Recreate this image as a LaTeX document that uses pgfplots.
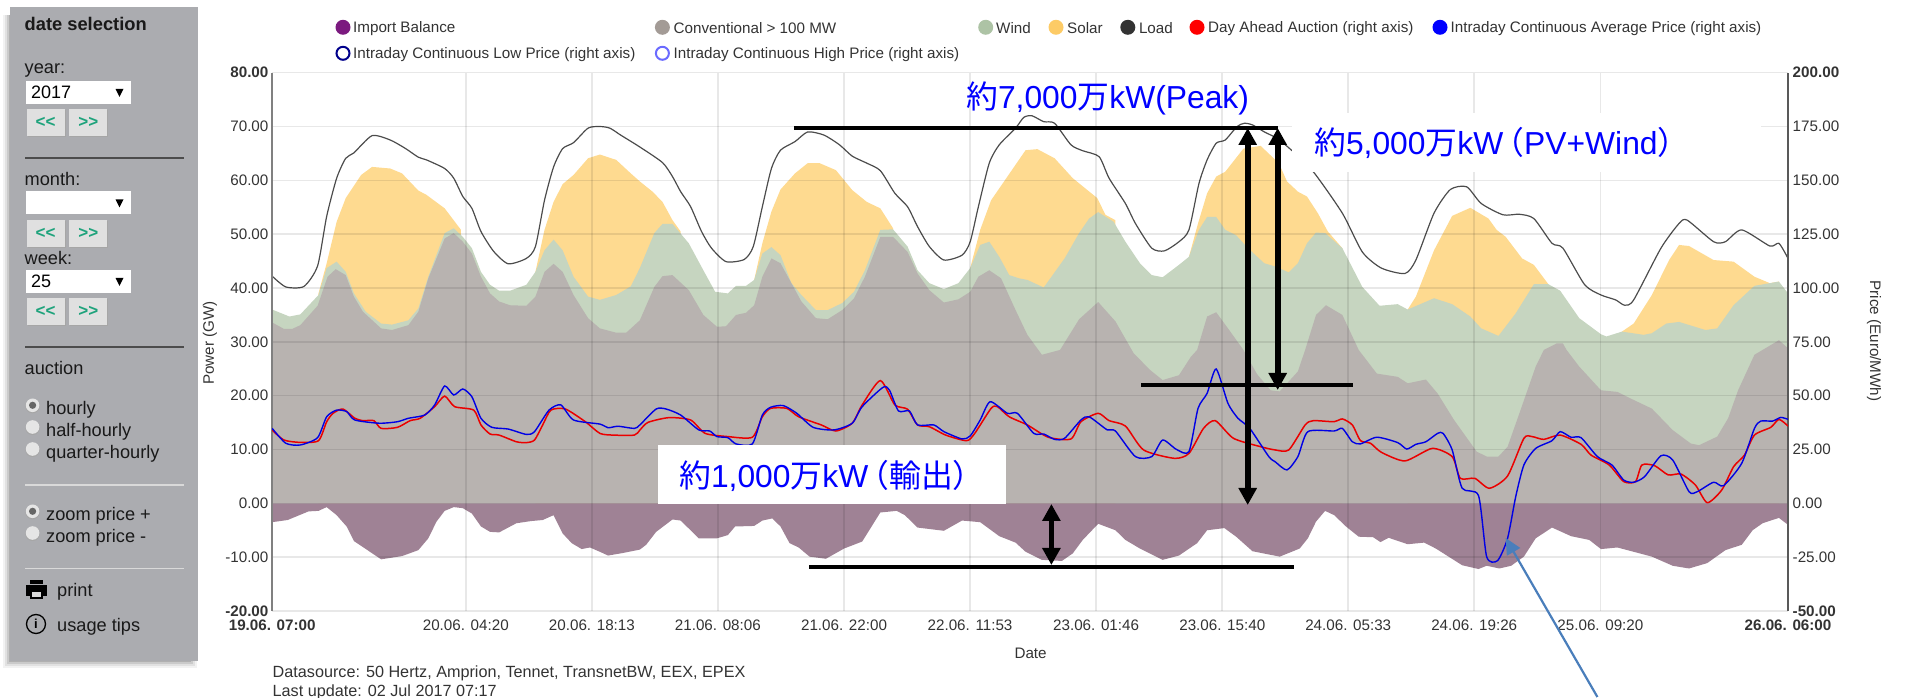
\documentclass[border=0pt]{standalone}
\usepackage{fontspec}
\setmainfont{Liberation Sans}
\newfontfamily\cjk{Noto Sans CJK JP}
\newfontfamily\cjkp[RawFeature=+palt]{Noto Sans CJK JP}
\usepackage{pgfplots}
\pgfplotsset{compat=1.18}
\usetikzlibrary{arrows.meta}
\definecolor{panel}{HTML}{ABACB0}
\definecolor{conv}{HTML}{B8B3B0}
\definecolor{windc}{HTML}{C6D5C0}
\definecolor{solarc}{HTML}{FEDA90}
\definecolor{importc}{HTML}{9F8295}
\definecolor{txt}{HTML}{333333}
\definecolor{grn}{HTML}{1FA37C}
\definecolor{annot}{HTML}{4A7EBB}
\definecolor{lgimp}{HTML}{7B1A7F}
\definecolor{lgconv}{HTML}{A39B96}
\definecolor{lgwind}{HTML}{ADC3A5}
\definecolor{lgsolar}{HTML}{FDCB66}
\definecolor{lgload}{HTML}{333333}
\definecolor{lglow}{HTML}{00008B}
\definecolor{lghigh}{HTML}{6A6AFF}
\newcommand{\fs}[1]{\fontsize{#1}{#1}\selectfont}
\tikzset{
 lg/.style={anchor=west,inner sep=0pt,text=txt,font=\fs{15.2}},
 pn/.style={anchor=west,inner sep=0pt,text=black!90,font=\fs{18.2}},
 ah/.style={{Triangle[length=17pt,width=17.5pt]}-{Triangle[length=17pt,width=17.5pt]}},
}
\newcommand{\btns}[1]{%
 \fill[black!35] (27.5,#1+1) rectangle (65.5,#1+28);
 \fill[black!35] (70.4,#1+1) rectangle (108.3,#1+28);
 \fill[black!12] (26.5,#1) rectangle (64.5,#1+27);
 \fill[black!12] (69.4,#1) rectangle (107.3,#1+27);
 \node[font=\fs{17}\bfseries,text=grn] at (45.5,#1+13) {<{}<};
 \node[font=\fs{17}\bfseries,text=grn] at (88.3,#1+13) {>{}>};
}
\newcommand{\selbox}[2]{%
 \fill[white] (25.7,#1) rectangle (131.4,#1+23);
 \fill[black] (115.5,#1+8) -- (123.5,#1+8) -- (119.5,#1+16) -- cycle;
 \node[anchor=west,inner sep=0pt,font=\fs{18}] at (31,#1+11.5) {#2};
}
\newcommand{\radio}[2]{%
 \fill[black!35] (32.6,#1+0.8) circle (7.2);
 \fill[black!10] (32.6,#1) circle (6.8);
 \ifnum#2=1 \fill[black!60] (32.6,#1) circle (3.6);\fi
}
\begin{document}
\begin{tikzpicture}
\path[use as bounding box] (0,0) rectangle (1915pt,698pt);
\begin{scope}[x=1pt,y=-1pt,shift={(0pt,698pt)}]
 % panel with shadow
 \foreach \d/\o in {7/0.05,5/0.07,3/0.1,1/0.13}{
  \fill[black,opacity=\o] (10-\d,15) rectangle (190+\d,661+\d);
 }
 \fill[panel] (10,7) rectangle (198,661);
 \node[pn,font=\fs{18.3}\bfseries] at (24.5,24) {date selection};
 \node[pn] at (24.5,71) {year:};
 \selbox{81}{2017}
 \btns{109}
 \draw[black!70,line width=1.5pt] (25.3,158) -- (183.7,158);
 \node[pn] at (24.5,179) {month:};
 \selbox{191.5}{}
 \btns{220}
 \node[pn] at (24.5,258.5) {week:};
 \selbox{270}{25}
 \btns{298}
 \draw[black!70,line width=1.5pt] (25.3,347) -- (183.7,347);
 \node[pn] at (24.5,367.7) {auction};
 \radio{405.3}{1}\radio{427}{0}\radio{449}{0}
 \node[pn] at (46,410) {hourly};
 \node[pn] at (46,432) {half-hourly};
 \node[pn] at (46,454) {quarter-hourly};
 \draw[black!15,line width=1.5pt] (25.3,485) -- (184,485);
 \radio{511.3}{1}\radio{533}{0}
 \node[pn] at (46,516) {zoom price +};
 \node[pn] at (46,538) {zoom price -};
 \draw[black!15,line width=1.5pt] (25.3,568.7) -- (184,568.7);
 % print icon
 \fill[black] (26,585) rectangle (47,596);
 \fill[black] (30,580) rectangle (43,584);
 \fill[black!15] (31,591) rectangle (42,598);
 \draw[black,line width=1.2pt] (31,591) rectangle (42,598);
 \node[pn] at (57,592) {print};
 % info icon
 \draw[black,line width=1.3pt] (36,624) circle (9.5);
 \node[inner sep=0pt,font=\fs{13}\bfseries] at (36,624) {i};
 \node[pn] at (57,626.5) {usage tips};
\end{scope}

\begin{axis}[
 at={(272.2pt,87pt)},anchor=south west,scale only axis,
 width=1515.8pt,height=538.3pt,
 xmin=0,xmax=167,ymin=-20,ymax=80,
 axis on top,
 axis y line*=left,axis x line*=bottom,
 y axis line style={-,draw=black!50,line width=1.5pt},
 x axis line style={-,draw=none},
 major tick length=0pt,
 xmajorgrids,ymajorgrids,
 grid style={draw=black,opacity=0.09,line width=1.6pt},
 xtick={0,21.33,35.22,49.1,63,76.88,90.77,104.67,118.55,132.43,146.33,167},
 xticklabels={\textbf{19.06. 07:00},20.06. 04:20,20.06. 18:13,21.06. 08:06,21.06. 22:00,22.06. 11:53,23.06. 01:46,23.06. 15:40,24.06. 05:33,24.06. 19:26,25.06. 09:20,\textbf{26.06. 06:00}},
 ytick={-20,-10,0,10,20,30,40,50,60,70,80},
 yticklabels={\textbf{-20.00},-10.00,0.00,10.00,20.00,30.00,40.00,50.00,60.00,70.00,\textbf{80.00}},
 xticklabel style={font=\fs{15.2},text=txt,anchor=north,inner sep=0pt,yshift=-8.5pt},
 yticklabel style={font=\fs{15.2},text=txt,anchor=east,inner sep=0pt,xshift=-3.6pt},
]
% solar arcs
\addplot[fill=solarc,draw=none] coordinates {(5.1,39)(6,44.6)(7.1,52.3)(8.1,56.7)(9.8,61)(11,62.5)(13,62.2)(14.3,61.3)(16.1,58.1)(17,57.3)(19,54.8)(20.8,50.8)} \closedcycle;
\addplot[fill=solarc,draw=none] coordinates {(29,43)(30,50.8)(31,56)(32,59.3)(33.2,61)(34.8,64.1)(36.1,64.8)(37.9,63.8)(39.5,61.3)(40.5,59.8)(41.9,57.9)(43,56)(44.1,52.6)(45,50.5)} \closedcycle;
\addplot[fill=solarc,draw=none] coordinates {(53.1,41.5)(54,48.3)(55,54.2)(56,58.3)(57.6,61.3)(59,63.2)(60.3,63.2)(62.1,61.9)(63.9,58.2)(65.5,56)(67,54.8)(68.4,51.1)} \closedcycle;
\addplot[fill=solarc,draw=none] coordinates {(76.9,43.7)(78,50.8)(79.2,56.3)(80.1,58.5)(83,65.6)(84.3,65.8)(86.2,64.1)(88.2,60.4)(90.9,56.7)(91.8,53.6)(92.9,52.6)} \closedcycle;
\addplot[fill=solarc,draw=none] coordinates {(101,45.8)(102,52)(103,57.6)(104,60.7)(105,61.6)(107,65.9)(108.9,66.4)(110.9,63.2)(111.8,59.8)(113,57.9)(114,57)(115.2,53.9)(116.3,50.5)(117.9,47.4)} \closedcycle;
\addplot[fill=solarc,draw=none] coordinates {(125.1,36)(126,38.4)(128,47)(130,53.4)(132,54.9)(134,52.9)(134.9,50.8)(135.9,49.5)(137.7,45.5)(139,44.3)(140.6,40.7)} \closedcycle;
\addplot[fill=solarc,draw=none] coordinates {(148.7,31.9)(150,33.4)(152,38.7)(153.9,45.2)(155,48)(156.1,47.8)(158.8,45.2)(161,44.9)(163.3,42.1)(165,40.9)(166,41.2)} \closedcycle;
% wind top
\addplot[fill=windc,draw=none] coordinates {(0,36)(1.9,34.7)(3.1,35.1)(5.1,38.7)(6,43.7)(7.1,44.9)(8.1,43)(9,39)(10.3,35.6)(12,33.4)(13.2,33.2)(15,34)(16.1,36.2)(17.2,42.1)(19,50.2)(20,51.1)(21,49.5)(22,47.4)(23,43)(24,40.6)(25,39.5)(26.2,39.5)(28,40.6)(29,43)(30,47)(31,49)(32,47)(33.2,42.1)(34.8,38.4)(36.1,37.8)(37.9,38.7)(39.5,40.3)(40.5,43.7)(42.1,50.2)(43,51.9)(44.1,51.9)(45.9,48.3)(47.5,43.3)(48.8,39.3)(50.2,39)(51.1,40.4)(52.2,40.4)(53.1,41.5)(54,46.4)(55,47.6)(56,46.1)(57.2,40.9)(58.3,38.7)(59.9,35.9)(61.2,35.9)(62.8,37.2)(64.1,39.3)(65.3,43.3)(67,50.8)(68.4,50.9)(70,47.7)(71.1,43.3)(72.4,40.9)(74,39.8)(75.6,40.9)(76.9,43.7)(78,48)(79,48.6)(80.1,45.8)(81.2,42.4)(82.3,41.8)(83.2,41.5)(85,40.1)(87.3,45.5)(88.9,50.2)(90,52.9)(91,54.1)(92.7,52.3)(94,48.6)(95.6,44.6)(96.9,42.4)(98.1,42)(99.9,44.3)(101,45.8)(102.1,50.8)(103,53.2)(104,53.2)(105,50.8)(106.2,49.8)(107.5,47.4)(109.3,44.6)(110.5,44)(112,42.9)(113,44.6)(114,48.3)(115,50.3)(116,50.2)(117.9,47.4)(120.1,40.2)(122,36.7)(124,37)(125.1,36)(128,38.1)(130,37)(132,34.7)(133.2,32.5)(135.1,31.1)(137,35.3)(139,40.7)(140.6,40.7)(141.9,39.5)(144,34.4)(146.4,31.4)(147,31)(148.7,31.9)(151.1,31.3)(152,31.6)(153.6,33.4)(155,33.7)(157.9,32.2)(159.2,32.5)(161,36.8)(163.3,40.4)(166,41.2)(167,39)} \closedcycle;
% conventional
\addplot[fill=conv,draw=none] coordinates {(0,33.6)(1.3,32.4)(2.2,32.4)(3.1,33.1)(5,36.7)(6.1,42.1)(7,43.5)(8.1,42.4)(9,38.4)(10,35.6)(12,32.5)(13.2,32.2)(15,33.1)(16.1,35.6)(17.2,41.8)(19,49.2)(20,50.2)(21,48.6)(22,46.4)(23,42.1)(24,39)(25,37.5)(26.2,36.8)(28,36.7)(29,38.4)(30,43)(31,44.5)(32,43)(33.2,38.7)(34.8,34.4)(36.1,32.5)(37.9,31.7)(39,31.7)(40.5,34)(42.1,40.2)(43,42.2)(44.1,42.4)(45.9,39.6)(47.5,35)(49,32.8)(50,32.9)(51.1,35)(52.2,35.4)(53.1,36.8)(54,42.1)(55,45.5)(56,44.6)(57.2,40.9)(58.3,37.5)(59.9,34.4)(61.2,34.2)(62.8,35.9)(64.1,38.1)(65.3,42.1)(67,49.5)(68.4,49.5)(70,46.7)(71.1,42.7)(72.4,39.6)(74,37.3)(75.6,37.9)(76.9,39.3)(77.8,42.1)(79,43.3)(80.3,41.8)(81.9,35.9)(83.2,31.3)(84.8,27.6)(86.8,28.5)(88.9,34.2)(91,37.4)(92.9,33.8)(94.9,27.9)(96.7,24.8)(98.1,22.9)(99.9,23.8)(101.2,27.2)(101.9,28.5)(103,34.7)(104,35.5)(105.3,32.5)(107,28.5)(108.5,24)(110,21)(111,20.8)(113,24.5)(113.8,28.5)(115,35)(116.1,36.8)(117.9,35)(119.7,28.5)(121.7,24.1)(124,23.5)(125.1,22.3)(127.1,23)(128.4,20.4)(130.2,15.5)(132.7,9.6)(133.8,8.7)(135.1,8.7)(136.1,10.5)(137.4,16.7)(139.2,25.4)(140.1,28.5)(141.5,29.7)(142.2,29.7)(142.6,28.5)(144,25.4)(146.4,21)(148.2,20.7)(150,19.2)(152,17.6)(154.3,13.6)(156.3,11.1)(157.2,10.8)(159.2,12.4)(160.4,15.8)(161.5,21)(163.3,27.6)(164.2,28.5)(166,30.3)(167,28.8)} \closedcycle;
% import balance
\addplot[fill=importc,draw=none] coordinates {(0,-3.5)(1.7,-3.1)(4,-1.5)(5.1,-1.4)(6,-0.7)(7.1,-2.2)(8.2,-4.3)(9,-7)(10.5,-8.7)(12,-10.4)(14.3,-9.8)(16.1,-8.7)(17.2,-6.5)(18.1,-3.4)(19,-1.4)(20,-0.7)(21,-0.9)(22,-1.9)(23,-4.3)(24,-5.3)(25,-5.4)(26.9,-3.7)(28.5,-3.3)(29.8,-3.1)(31,-2.2)(32,-5.6)(33,-7.4)(34.1,-8.5)(35,-8.2)(36.1,-9)(37,-9.7)(38.4,-9.3)(40.5,-8.6)(41.2,-7.7)(42.3,-5.3)(44.1,-3)(45,-3.2)(47,-6.5)(49,-6.5)(50.2,-5.9)(51,-4.3)(53.1,-4.2)(54,-3.2)(55.1,-2.8)(56,-4.3)(57,-7.4)(58,-8.2)(59.2,-9.9)(61,-10.3)(63,-8.4)(65,-7.1)(67,-1.7)(68.8,-1.4)(69.7,-2.2)(71.1,-4.5)(74,-5.1)(76,-3.2)(78,-3.5)(80.1,-6.1)(81.9,-7.3)(83,-9)(84.8,-10.5)(87,-10.7)(88.2,-9.3)(89.3,-6.8)(91,-3.8)(92.9,-5)(94,-6.8)(95.6,-8.4)(98.1,-10.5)(99.9,-9.7)(101.9,-7.4)(103,-5)(104.9,-4.6)(106.2,-6.2)(108,-8.9)(111,-9.9)(113.2,-8.4)(114.1,-6.5)(115,-3.4)(116,-1.4)(117,-2.2)(118.3,-4.3)(119.7,-6.2)(121.3,-6.3)(122.1,-7.2)(123,-6.4)(125.1,-7.6)(126.9,-7.3)(128.2,-8.4)(131.1,-11.5)(132.9,-12.2)(133.8,-11.6)(135.2,-12.1)(136.5,-11.6)(137.9,-9.9)(139.2,-6.5)(141,-4.5)(143.1,-6.1)(145.1,-6.8)(146.4,-8.5)(148.2,-8.2)(152,-9.9)(154.3,-11.6)(156.1,-12.1)(158.1,-11.1)(160.1,-8.7)(161.9,-7.7)(163.1,-5)(164.2,-3.7)(166,-2.7)(167,-4)} \closedcycle;
% load
\addplot[draw=black!70,line width=1.2pt,smooth,tension=0.4] coordinates {(0,42.2)(1.5,40.2)(3.5,40.3)(5,44.1)(6,53.3)(7.1,60.4)(8.1,64.1)(9,65.1)(11,68.3)(13,67.5)(14.7,65.9)(16.1,64.3)(17,63.8)(19,62.2)(20,60.4)(21,57)(22,54.8)(23,50.5)(24.4,46.8)(26,44.5)(28,45.5)(29,47.7)(30,56.3)(31,62.5)(32,65.9)(33.2,67)(34.8,69.7)(36.1,70)(37.2,69.7)(38.4,68.4)(40.5,66.2)(43,63.3)(44.1,60.7)(45,57.9)(46.1,55.1)(47.3,50.5)(48.4,47.4)(50,44.9)(52,45.3)(53,47.7)(54,55.1)(55,62.2)(56,65.6)(57.6,67.2)(59,69)(60.8,68.4)(62.5,66.6)(63.9,64.5)(65.5,63.2)(67,61.8)(68.6,57.6)(70,55.1)(71.1,51.4)(72.4,47.7)(74,45.2)(76,46.1)(76.9,48.6)(77.8,55.1)(79,63.2)(80.1,66.6)(81.9,69.7)(82.8,71.7)(83.7,72)(85,70.9)(86.2,70.6)(88,66.6)(89.3,65.5)(91.1,64.4)(92.2,60.4)(94,55.7)(95.1,52)(96.9,47.4)(98.3,46.9)(99.9,48.6)(101,50.8)(102.1,59.4)(103,63.8)(104,66.9)(105,67.5)(106.3,70)(107.1,70.6)(108,70.3)(109.3,69)(110.7,67.8)(112.3,65.6)(114.7,61.6)(117.9,53.9)(120.1,46.7)(122.2,43.7)(124.8,42.7)(126,45.2)(128,53.9)(129.8,58.3)(131.6,58.8)(133.2,55.7)(135.6,53.6)(137.4,53.7)(139,52.9)(141,48.3)(142.2,47.4)(144.6,40.6)(146.4,38.7)(148,37.8)(149,36.8)(150,37.8)(153,47.4)(155,52)(155.9,52.6)(158.8,48.6)(160.1,48.6)(161.9,50.8)(165,47.8)(166,48.3)(167,45.5)};
\end{axis}

\begin{axis}[
 at={(272.2pt,87pt)},anchor=south west,scale only axis,
 width=1515.8pt,height=538.3pt,
 xmin=0,xmax=167,ymin=-50,ymax=200,
 axis x line=none,
 axis y line*=right,
 y axis line style={-,draw=black!65,line width=1.5pt},
 major tick length=0pt,
 ytick={-50,-25,0,25,50,75,100,125,150,175,200},
 yticklabels={\textbf{-50.00},-25.00,0.00,25.00,50.00,75.00,100.00,125.00,150.00,175.00,\textbf{200.00}},
 yticklabel style={font=\fs{15.2},text=txt,anchor=west,inner sep=0pt,xshift=4.5pt},
]
% day ahead
\addplot[draw=red!92!black,line width=1.5pt,smooth,tension=0.4] coordinates {(0,34)(1.3,29.4)(3.1,28.3)(5.1,29.1)(6,37.9)(6.7,41.8)(7.8,43.8)(9.1,39.5)(10,38.4)(11.2,38.4)(12,34.8)(13.8,35.3)(15.2,38.4)(16.3,39.5)(17.9,44.9)(19,49.8)(20.1,44.9)(22.2,43.3)(23,36.4)(24,32.2)(25,31.7)(26.9,28.6)(28,28.2)(28.9,29.4)(29.8,36.4)(30.7,43.3)(32.3,43.8)(34.5,37.9)(36.1,32.5)(37.5,31.7)(39.9,31.7)(40.5,34)(41.4,37.6)(43.7,39.8)(46.1,38.7)(47.7,32.5)(50.2,31)(52.9,30.7)(54,40.2)(54.9,44.1)(56.7,44.1)(58,40.2)(60.5,36.4)(62.1,33.6)(63.9,37.2)(65,45.7)(67,57)(68.6,45.7)(70,43.7)(71.1,36.4)(72.4,35.6)(74.2,31.7)(76.5,29.1)(77.4,32.5)(79.2,44.1)(79.9,44.9)(81.2,40.2)(83.2,36.4)(85.5,30.7)(88,29.9)(89.1,37.9)(91,41.8)(92.2,38.4)(94,35.9)(96,24.8)(99.4,20.9)(101,23.2)(102.6,34.8)(103.9,38.4)(105.9,30.2)(108.9,26.3)(110.5,24.8)(112,24.8)(113.8,36.4)(114.7,38.4)(117,37.9)(117.9,39.2)(119,36.4)(119.9,29.1)(121,27.9)(122.2,23.7)(124.8,19.7)(127.8,25.5)(130,21.7)(130.9,11.6)(132.5,11.6)(134.1,7)(136.1,12.7)(137.9,30.2)(138.8,31)(140.1,29.7)(141.9,31.7)(144.2,27.4)(145.3,22.4)(147.3,17.8)(148.9,10.1)(150.2,10.1)(150.9,17.8)(152.3,17.5)(153.8,13.2)(155.2,13.6)(156.8,8.5)(158.1,0.3)(159.7,6.2)(161,17)(162.2,22.4)(163.3,31.7)(165.1,35.3)(166,39)(167,35.9)};
% intraday average
\addplot[draw=blue!90!black,line width=1.4pt,smooth,tension=0.4] coordinates {(0,34.8)(1.5,27.9)(3.1,27.1)(5,30.5)(6,40.2)(7.1,43.3)(8.2,42.6)(9.1,38.7)(11.8,37.2)(13.8,37.9)(15,39.5)(16.8,41)(17.9,45.7)(19,54.5)(20,50.3)(21,53.1)(22,49.5)(23,39.5)(24.2,35.3)(26,34.5)(28,32)(28.9,33.3)(30.5,43.3)(31.8,45.7)(33.2,38.7)(36.1,36.8)(37,35.1)(38.1,35.8)(39.9,34.8)(40.5,36.4)(42.3,43.8)(43.4,43.8)(45,41)(47,34.1)(48.2,33.6)(49,31)(50.2,30.5)(51.1,27.6)(52.9,27.6)(54,41)(54.9,44.6)(56.3,45.4)(57.8,41.8)(59.6,35.3)(61.9,34.1)(63.9,37.2)(65,44.9)(67.3,53.9)(68,52.6)(69,42.9)(70.2,42.9)(71.1,36.4)(72.9,36.4)(74,33.3)(76,29.9)(76.9,31.3)(78,38.7)(79.1,47.2)(81,41.8)(82.1,41.8)(83.9,32.5)(85,32.2)(86.2,29.7)(87.3,30.2)(89.1,38.7)(90,40.2)(92,34.1)(92.9,33.6)(95.1,21.7)(96.9,21.7)(98.1,29.4)(99.6,25.1)(101,24)(102,44.1)(103,51.1)(104,62.4)(105.3,46.4)(106.4,39.5)(107.7,34.8)(109.8,21.7)(110.5,19.3)(111.8,15.5)(113,21.7)(114.1,33.3)(117,33.6)(117.9,34.8)(119,28.6)(119.9,27.6)(121.7,30.7)(124,28.2)(125,25.2)(126,27.4)(127.1,28.6)(128.4,32.5)(129,32.5)(130,24.8)(131.1,7)(132.9,3.6)(133.8,-24.8)(135,-26.6)(136.1,-16.3)(137,3.1)(137.9,17.8)(139.2,25.5)(141,29.1)(141.9,33.3)(143.1,30.7)(144.2,30.5)(146,21.7)(147.6,17.8)(148.9,10.8)(150,9.8)(151.2,12.4)(153,22.1)(154.3,20.1)(156.1,5.4)(157,5.4)(158.8,9.8)(159.9,8.2)(161.9,18.6)(163.3,34.8)(164,38.2)(165.3,38.2)(166.2,39.9)(167,39)};
\end{axis}

\begin{scope}[x=1pt,y=-1pt,shift={(0pt,698pt)}]
 % axis titles
 \node[rotate=90,inner sep=0pt,text=txt,font=\fs{15.2}] at (210,343) {Power (GW)};
 \node[rotate=-90,inner sep=0pt,text=txt,font=\fs{15.2}] at (1874,341) {Price (Euro/MWh)};
 \node[inner sep=0pt,text=txt,font=\fs{15.2}] at (1030.6,653) {Date};
 \node[lg,font=\fs{16.2}] at (272.5,673.5) {Datasource: 50 Hertz, Amprion, Tennet, TransnetBW, EEX, EPEX};
 \node[lg,font=\fs{16.2}] at (272.5,692) {Last update: 02 Jul 2017 07:17};
 % legend
 \fill[lgimp] (343,27.3) circle (7.5);
 \node[lg] at (353,28.5) {Import Balance};
 \fill[lgconv] (662.4,27.3) circle (7.5);
 \node[lg] at (673.5,28.5) {Conventional > 100 MW};
 \fill[lgwind] (985.7,27.3) circle (7.5);
 \node[lg] at (996,28.5) {Wind};
 \fill[lgsolar] (1056,27.3) circle (7.5);
 \node[lg] at (1067,28.5) {Solar};
 \fill[lgload] (1127.8,27.3) circle (7.5);
 \node[lg] at (1138.8,28.5) {Load};
 \fill[red] (1197,27.3) circle (7.5);
 \node[lg] at (1208,28.5) {Day Ahead Auction (right axis)};
 \fill[blue] (1440,27.3) circle (7.5);
 \node[lg] at (1450.5,28.5) {Intraday Continuous Average Price (right axis)};
 \draw[lglow,line width=2pt] (343,53.3) circle (6.5);
 \node[lg] at (353,55) {Intraday Continuous Low Price (right axis)};
 \draw[lghigh,line width=2pt] (662.4,53.3) circle (6.5);
 \node[lg] at (673.5,55) {Intraday Continuous High Price (right axis)};
 % white boxes
 \fill[white] (1292,113) rectangle (1761,172);
 \fill[white] (658,445) rectangle (1006,504);
 % annotations
 \draw[black,line width=4pt] (794,127.7) -- (1278,127.7);
 \draw[black,line width=4pt] (1141,385) -- (1352.5,385);
 \draw[black,line width=4pt] (809,566.7) -- (1294,566.7);
 \draw[black,line width=5.8pt,ah] (1247.7,128) -- (1247.7,505);
 \draw[black,line width=5.8pt,ah] (1277.7,128) -- (1277.7,390);
 \draw[black,line width=5.8pt,ah] (1051.4,504) -- (1051.4,565);
 \draw[annot,line width=2.2pt,-{Triangle[length=16pt,width=15pt]}] (1597.4,697) -- (1505.6,538);
 \node[anchor=west,inner sep=0pt,text=blue,font=\fs{31.8}] at (966,98) {{\cjk 約}7,000{\cjk 万}kW(Peak)};
 \node[anchor=west,inner sep=0pt,text=blue,font=\fs{31.8}] at (1314,143) {{\cjk 約}5,000{\cjk 万}kW\hspace{4pt}{\cjkp （}\hspace{1pt}PV+Wind\hspace{1pt}{\cjkp ）}};
 \node[anchor=west,inner sep=0pt,text=blue,font=\fs{31.8}] at (679,476) {{\cjk 約}1,000{\cjk 万}kW\hspace{4pt}{\cjkp （}\hspace{1pt}{\cjk 輸出}\hspace{1pt}{\cjkp ）}};
\end{scope}
\end{tikzpicture}
\end{document}
